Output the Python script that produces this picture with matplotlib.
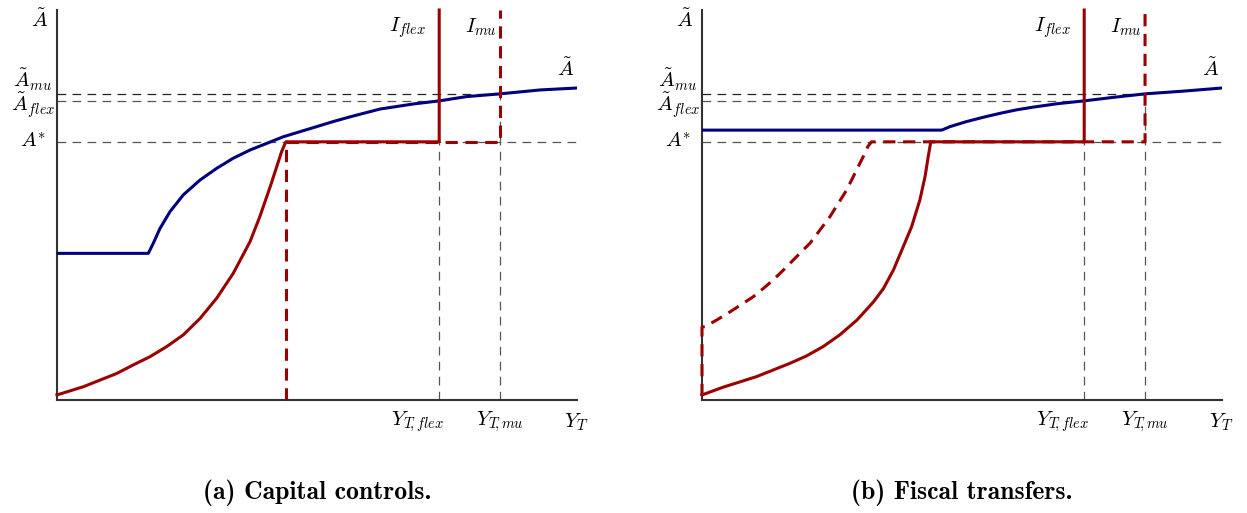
import numpy as np
import matplotlib
import matplotlib.pyplot as plt

matplotlib.rcParams['mathtext.fontset'] = 'cm'
matplotlib.rcParams['font.family'] = 'DejaVu Serif'

RED = '#9a0000'
BLUE = '#00007f'
GRAY = '#555555'

# key levels (axis units 0..10)
A_star = 6.62
A_flex = 7.67
A_mu = 7.85
Y_flex = 7.35
Y_mu = 8.52
top = 10.0

# panel (a): capital controls
a_blue_x = [0, 1.756, 1.852, 1.981, 2.173, 2.429, 2.75, 3.071, 3.39, 3.712, 4.033,
            4.352, 4.673, 4.994, 5.313, 5.635, 6.21, 6.85, 7.35, 7.88, 8.52, 9.29, 10.0]
a_blue_y = [3.76, 3.76, 4.02, 4.40, 4.83, 5.26, 5.64, 5.94, 6.20, 6.41, 6.58,
            6.75, 6.88, 7.01, 7.14, 7.26, 7.46, 7.59, 7.67, 7.78, 7.85, 7.95, 8.0]
a_red_x = [0, 0.506, 0.827, 1.148, 1.467, 1.788, 2.11, 2.429, 2.75, 3.071, 3.39,
           3.712, 3.90, 4.10, 4.225, 4.32, 4.40]
a_red_y = [0.13, 0.34, 0.51, 0.68, 0.90, 1.11, 1.37, 1.67, 2.09, 2.61, 3.25,
           4.06, 4.70, 5.47, 5.98, 6.37, 6.62]
a_kink = 4.40

# panel (b): fiscal transfers
b_blue_x = [0, 4.61, 4.77, 5.09, 5.41, 5.73, 6.05, 6.37, 6.85, 7.35, 7.91, 8.52, 9.26, 10.0]
b_blue_y = [6.92, 6.92, 7.01, 7.14, 7.25, 7.35, 7.44, 7.51, 7.60, 7.67, 7.76, 7.85, 7.92, 8.0]
b_red_x = [0, 0.41, 1.05, 1.69, 2.01, 2.33, 2.65, 2.98, 3.30, 3.49, 3.68, 3.87,
           4.03, 4.19, 4.29, 4.35, 4.40]
b_red_y = [0.13, 0.33, 0.60, 0.94, 1.13, 1.37, 1.67, 2.05, 2.52, 2.86, 3.33, 3.93,
           4.44, 5.13, 5.73, 6.24, 6.62]
b_dash_x = [0.058, 0.282, 0.538, 0.794, 0.987, 1.179, 1.371, 1.564, 1.756, 1.948,
            2.077, 2.269, 2.46, 2.62, 2.78, 2.94, 3.10, 3.19, 3.26]
b_dash_y = [1.88, 2.05, 2.26, 2.48, 2.65, 2.86, 3.08, 3.33, 3.59, 3.85,
            4.02, 4.36, 4.70, 5.04, 5.38, 5.81, 6.24, 6.50, 6.62]

W, H = 1247, 513
fig = plt.figure(figsize=(W / 100, H / 100), dpi=100)


def make_axes(x0):
    ax = fig.add_axes([x0 / W, (H - 400) / H, 520 / W, 390 / H])
    ax.set_xlim(0, 10)
    ax.set_ylim(0, 10)
    ax.spines['top'].set_visible(False)
    ax.spines['right'].set_visible(False)
    for s in ['left', 'bottom']:
        ax.spines[s].set_color('#333333')
        ax.spines[s].set_linewidth(1.5)
    ax.set_xticks([])
    ax.set_yticks([])
    return ax


def guides(ax):
    kw = dict(color=GRAY, lw=0.9, dashes=(7, 5), zorder=1)
    ax.plot([0, 10], [A_star, A_star], **kw)
    ax.plot([0, Y_flex], [A_flex, A_flex], **kw)
    ax.plot([0, Y_mu], [A_mu, A_mu], color='#222222', lw=0.9, dashes=(7, 5), zorder=1)
    ax.plot([Y_flex, Y_flex], [0, A_flex], **kw)
    ax.plot([Y_mu, Y_mu], [0, A_mu], **kw)


def labels(ax):
    fs = 15
    ax.text(-0.33, 9.74, r'$\tilde{A}$', ha='center', va='center', fontsize=fs, clip_on=False)
    ax.text(-0.1, 8.2, r'$\tilde{A}_{mu}$', ha='right', va='center', fontsize=fs, clip_on=False)
    ax.text(-0.03, 7.55, r'$\tilde{A}_{flex}$', ha='right', va='center', fontsize=fs, clip_on=False)
    ax.text(-0.2, A_star, r'$A^{*}$', ha='right', va='center', fontsize=fs, clip_on=False)
    ax.text(6.94, -0.56, r'$Y_{T\!,flex}$', ha='center', va='center', fontsize=fs, clip_on=False)
    ax.text(8.52, -0.56, r'$Y_{T\!,mu}$', ha='center', va='center', fontsize=fs, clip_on=False)
    ax.text(9.98, -0.56, r'$Y_T$', ha='center', va='center', fontsize=fs, clip_on=False)
    ax.text(6.75, 9.54, r'$I_{flex}$', ha='center', va='center', fontsize=fs, clip_on=False)
    ax.text(8.15, 9.56, r'$I_{mu}$', ha='center', va='center', fontsize=fs, clip_on=False)
    ax.text(9.77, 8.5, r'$\tilde{A}$', ha='center', va='center', fontsize=fs, clip_on=False)


# (a)
ax1 = make_axes(57)
guides(ax1)
ax1.plot(a_blue_x, a_blue_y, color=BLUE, lw=2.2, zorder=3, solid_joinstyle='round')
ax1.plot([a_kink, a_kink, Y_mu, Y_mu], [0, A_star, A_star, top],
         color=RED, lw=2.2, dashes=(4, 2.5), zorder=4, clip_on=False)
ax1.plot(a_red_x + [Y_flex, Y_flex], a_red_y + [A_star, top],
         color=RED, lw=2.2, zorder=5, clip_on=False, solid_joinstyle='round')
labels(ax1)

# (b)
ax2 = make_axes(702)
guides(ax2)
ax2.plot(b_blue_x, b_blue_y, color=BLUE, lw=2.2, zorder=3, solid_joinstyle='round')
ax2.plot([0, 0] + b_dash_x + [Y_mu, Y_mu], [0.1, 1.87] + b_dash_y + [A_star, top],
         color=RED, lw=2.2, dashes=(4, 2.5), zorder=4, clip_on=False)
ax2.plot(b_red_x + [Y_flex, Y_flex], b_red_y + [A_star, top],
         color=RED, lw=2.2, zorder=5, clip_on=False, solid_joinstyle='round')
labels(ax2)

fig.text(317 / W, 1 - 493 / H, '(a) Capital controls.', family='cmb10',
         ha='center', va='center', fontsize=18.5)
fig.text(962 / W, 1 - 493 / H, '(b) Fiscal transfers.', family='cmb10',
         ha='center', va='center', fontsize=18.5)

fig.savefig('out.png', dpi=100)
